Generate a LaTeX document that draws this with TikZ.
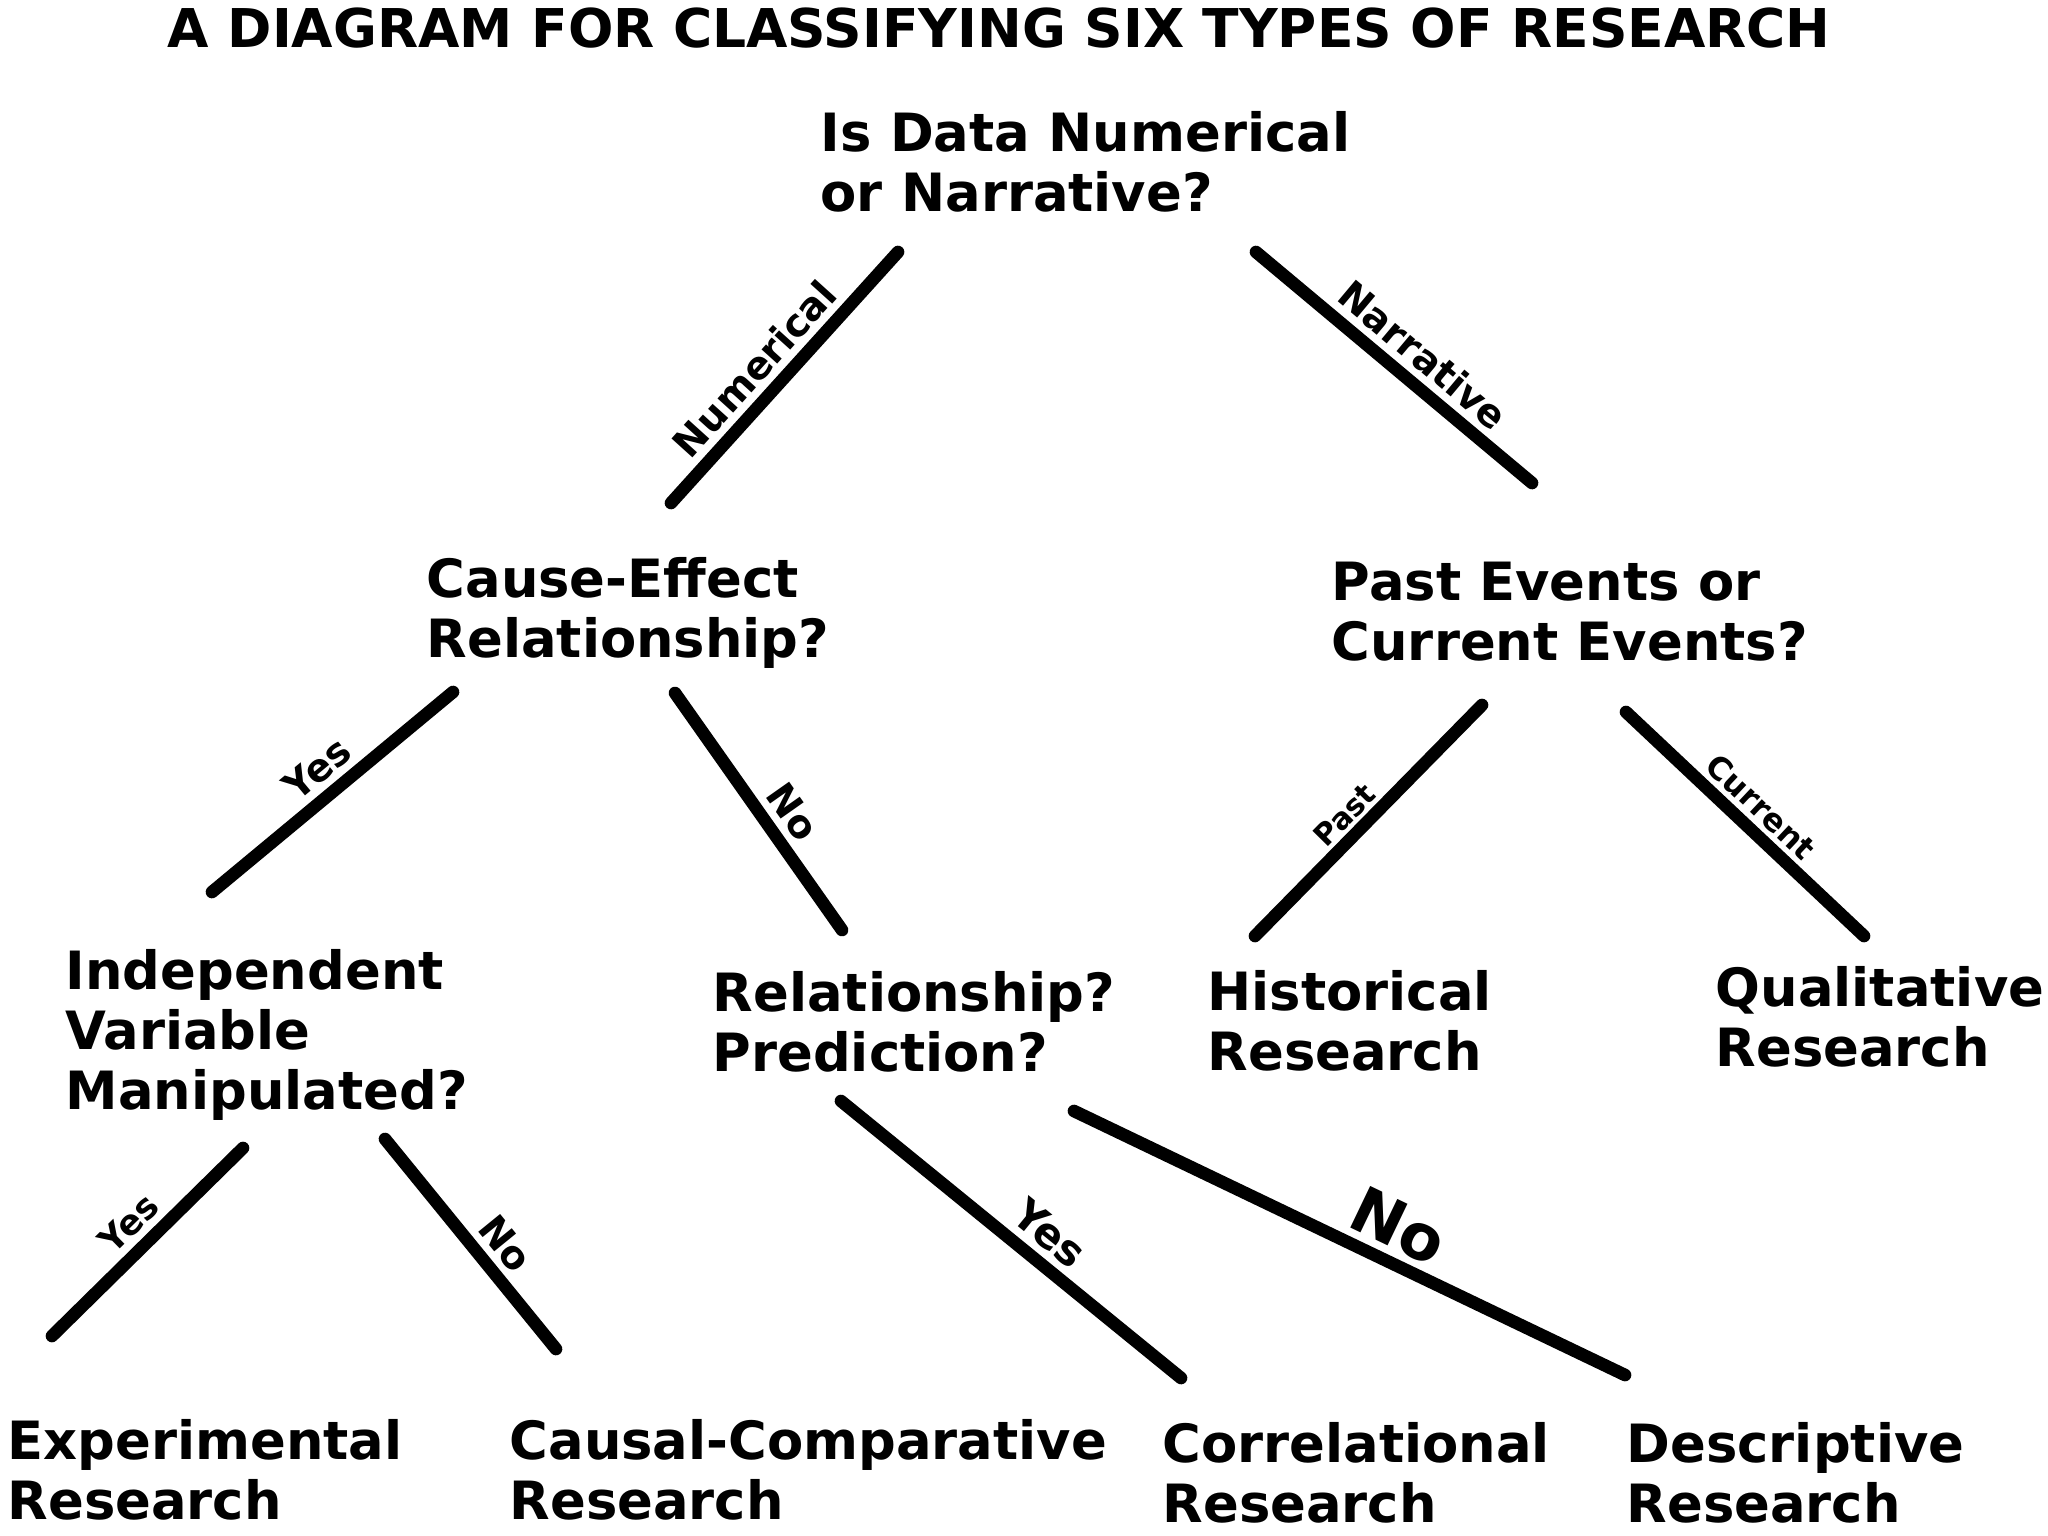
\documentclass[tikz,border=0pt]{standalone}
\usepackage{fontspec}
\setmainfont{DejaVu Sans}
\begin{document}
\begin{tikzpicture}[x=0.01cm,y=-0.01cm,
  qtext/.style={anchor=base west,align=left,inner sep=0pt,font=\bfseries\fontsize{15pt}{17pt}\selectfont},
  branch/.style={line width=3.6pt,line cap=round},
  lab/.style={sloped,above,inner sep=2pt,font=\bfseries\fontsize{#1}{#1}\selectfont},
  lab/.default={11pt}]
\useasboundingbox[fill=white] (0,0) rectangle (2048,1536);

% title
\node[qtext,font=\bfseries\fontsize{15.2pt}{17pt}\selectfont] (title) at (167,47) {A DIAGRAM FOR CLASSIFYING SIX TYPES OF RESEARCH};

% question / result nodes (anchor = baseline of last line)
\node[qtext] (q1) at (820,211) {Is Data Numerical\\or Narrative?};
\node[qtext] (q2) at (426,657) {Cause-Effect\\Relationship?};
\node[qtext] (q3) at (1331,660) {Past Events or\\Current Events?};
\node[qtext] (q4) at (65,1109) {Independent\\Variable\\Manipulated?};
\node[qtext] (q5) at (712,1071) {Relationship?\\Prediction?};
\node[qtext] (rhist) at (1207,1070) {Historical\\Research};
\node[qtext] (rqual) at (1715,1066) {Qualitative\\Research};
\node[qtext] (rexp) at (7,1519) {Experimental\\Research};
\node[qtext] (rcc) at (509,1519) {Causal-Comparative\\Research};
\node[qtext] (rcorr) at (1162,1522) {Correlational\\Research};
\node[qtext] (rdesc) at (1626,1522) {Descriptive\\Research};

% connector end points
\coordinate (n1a) at (671,503);   \coordinate (n1b) at (898,252);
\coordinate (n2a) at (1256,252);  \coordinate (n2b) at (1532,483);
\coordinate (n3a) at (212,892);   \coordinate (n3b) at (453,692);
\coordinate (n4a) at (675,693);   \coordinate (n4b) at (842,930);
\coordinate (n5a) at (1255,936);  \coordinate (n5b) at (1482,705);
\coordinate (n6a) at (1626,712);  \coordinate (n6b) at (1864,936);
\coordinate (n7a) at (52,1336);   \coordinate (n7b) at (243,1148);
\coordinate (n8a) at (385,1139);  \coordinate (n8b) at (556,1349);
\coordinate (n9a) at (841,1101);  \coordinate (n9b) at (1181,1378);
\coordinate (n10a) at (1074,1111); \coordinate (n10b) at (1625,1375);

% connectors
\draw[branch] (n1a) -- node[lab,pos=.46] (l1) {Numerical} (n1b);
\draw[branch] (n2a) -- node[lab,pos=.54] (l2) {Narrative} (n2b);
\draw[branch] (n3a) -- node[lab,pos=.51] (l3) {Yes} (n3b);
\draw[branch] (n4a) -- node[lab,pos=.57] (l4) {No} (n4b);
\draw[branch] (n5a) -- node[lab=8.5pt,pos=.46,inner sep=1pt] (l5) {Past} (n5b);
\draw[branch] (n6a) -- node[lab=9pt,pos=.50,inner sep=1.5pt] (l6) {Current} (n6b);
\draw[branch] (n7a) -- node[lab=10pt,pos=.50] (l7) {Yes} (n7b);
\draw[branch] (n8a) -- node[lab,pos=.58] (l8) {No} (n8b);
\draw[branch] (n9a) -- node[lab=12pt,pos=.56] (l9) {Yes} (n9b);
\draw[branch] (n10a) -- node[lab=18pt,pos=.56] (l10) {No} (n10b);
\end{tikzpicture}
\end{document}
